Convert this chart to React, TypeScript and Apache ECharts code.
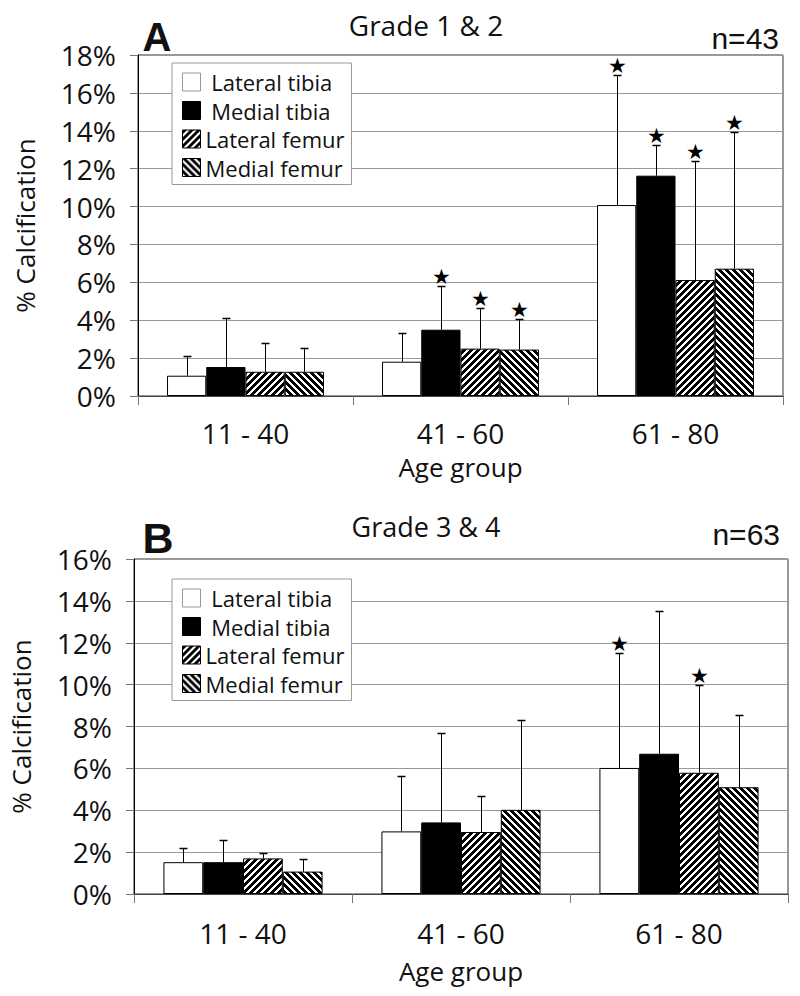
import React, { useEffect, useRef } from 'react';
import * as echarts from 'echarts';

// ---------- data ----------
const categories = ['11 - 40', '41 - 60', '61 - 80'];
const seriesNames = ['Lateral tibia', 'Medial tibia', 'Lateral femur', 'Medial femur'];

// Panel A: Grade 1 & 2 (mean %, upper end of error bar %)
const meanA_lateralTibia = [1.07, 1.81, 10.08];
const meanA_medialTibia = [1.53, 3.5, 11.63];
const meanA_lateralFemur = [1.28, 2.5, 6.12];
const meanA_medialFemur = [1.28, 2.45, 6.72];
const upperA_lateralTibia = [2.11, 3.33, 16.96];
const upperA_medialTibia = [4.1, 5.79, 13.23];
const upperA_lateralFemur = [2.82, 4.66, 12.42];
const upperA_medialFemur = [2.53, 4.06, 13.94];
const starA_lateralTibia = [0, 0, 1];
const starA_medialTibia = [0, 1, 1];
const starA_lateralFemur = [0, 1, 1];
const starA_medialFemur = [0, 1, 1];

// Panel B: Grade 3 & 4
const meanB_lateralTibia = [1.52, 2.99, 6.02];
const meanB_medialTibia = [1.52, 3.42, 6.7];
const meanB_lateralFemur = [1.7, 2.96, 5.79];
const meanB_medialFemur = [1.07, 4.02, 5.1];
const upperB_lateralTibia = [2.19, 5.63, 11.5];
const upperB_medialTibia = [2.58, 7.68, 13.54];
const upperB_lateralFemur = [1.94, 4.69, 9.97];
const upperB_medialFemur = [1.65, 8.3, 8.54];
const starB_lateralTibia = [0, 0, 1];
const starB_medialTibia = [0, 0, 0];
const starB_lateralFemur = [0, 0, 1];
const starB_medialFemur = [0, 0, 0];

const yMaxA = 18;
const yMaxB = 16;
const yInterval = 2;

const CAT_GAP = 0.27;
const FONT = '"Open Sans", "DejaVu Sans", sans-serif';

function makeStripes(dir: number) {
  const p = 7;
  const c = document.createElement('canvas');
  c.width = p;
  c.height = p;
  const ctx = c.getContext('2d')!;
  ctx.fillStyle = '#fff';
  ctx.fillRect(0, 0, p, p);
  ctx.fillStyle = '#000';
  for (let y = 0; y < p; y++) {
    for (let x = 0; x < p; x++) {
      const k = dir > 0 ? (x + y) % p : (((x - y) % p) + p) % p;
      if (k < 4) ctx.fillRect(x, y, 1, 1);
    }
  }
  return c;
}

export default function App() {
  const ref = useRef<HTMLDivElement>(null);

  useEffect(() => {
    if (!ref.current) return;
    const chart = echarts.init(ref.current, null, { renderer: 'svg' });

    const fwd = { image: makeStripes(1), repeat: 'repeat', imageWidth: 7, imageHeight: 7 };
    const back = { image: makeStripes(-1), repeat: 'repeat', imageWidth: 7, imageHeight: 7 };
    const fills: any[] = ['#ffffff', '#000000', fwd, back];

    const meansA = [meanA_lateralTibia, meanA_medialTibia, meanA_lateralFemur, meanA_medialFemur];
    const uppersA = [upperA_lateralTibia, upperA_medialTibia, upperA_lateralFemur, upperA_medialFemur];
    const starsA = [starA_lateralTibia, starA_medialTibia, starA_lateralFemur, starA_medialFemur];
    const meansB = [meanB_lateralTibia, meanB_medialTibia, meanB_lateralFemur, meanB_medialFemur];
    const uppersB = [upperB_lateralTibia, upperB_medialTibia, upperB_lateralFemur, upperB_medialFemur];
    const starsB = [starB_lateralTibia, starB_medialTibia, starB_lateralFemur, starB_medialFemur];

    const barSeries = (means: number[][], gi: number) =>
      means.map((m, i) => ({
        type: 'bar',
        name: seriesNames[i],
        xAxisIndex: gi,
        yAxisIndex: gi,
        data: m,
        barGap: '0%',
        barCategoryGap: CAT_GAP * 100 + '%',
        itemStyle: { color: fills[i], borderColor: '#000', borderWidth: 1 },
        z: 2,
      }));

    const errData = (means: number[][], uppers: number[][], stars: number[][]) => {
      const out: number[][] = [];
      means.forEach((m, si) => {
        m.forEach((v, ci) => {
          out.push([ci, v, uppers[si][ci], si, stars[si][ci]]);
        });
      });
      return out;
    };

    const errSeries = (gi: number, data: number[][]) => ({
      type: 'custom',
      xAxisIndex: gi,
      yAxisIndex: gi,
      z: 5,
      silent: true,
      encode: { x: 0, y: [1, 2] },
      data,
      renderItem: (params: any, api: any) => {
        const cat = api.value(0);
        const mean = api.value(1);
        const upper = api.value(2);
        const si = api.value(3);
        const star = api.value(4);
        const band = api.size([1, 0])[0];
        const total = band * (1 - CAT_GAP);
        const bw = total / 4;
        const base = api.coord([cat, 0]);
        const cx = Math.round(base[0] - total / 2 + bw * (si + 0.5)) + 0.5;
        const yTop = Math.round(api.coord([cat, upper])[1]) + 0.5;
        const yMean = api.coord([cat, mean])[1];
        const children: any[] = [
          { type: 'line', shape: { x1: cx, y1: yMean, x2: cx, y2: yTop }, style: { stroke: '#000', lineWidth: 1 } },
          { type: 'line', shape: { x1: cx - 4, y1: yTop, x2: cx + 4, y2: yTop }, style: { stroke: '#000', lineWidth: 1.5 } },
        ];
        if (star) {
          children.push({
            type: 'text',
            style: {
              text: '★',
              x: cx,
              y: yTop + 1,
              textAlign: 'center',
              align: 'center',
              textVerticalAlign: 'bottom',
              verticalAlign: 'bottom',
              font: '21px "DejaVu Sans"',
              fill: '#000',
            },
          });
        }
        return { type: 'group', children };
      },
    });

    const legendCfg = (top: number) => ({
      orient: 'vertical',
      left: 172,
      top,
      padding: [8, 7, 6, 10],
      itemWidth: 18,
      itemHeight: 18,
      itemGap: 6.5,
      borderColor: '#999',
      borderWidth: 1,
      backgroundColor: '#fff',
      icon: 'rect',
      selectedMode: false,
      z: 10,
      textStyle: { fontFamily: FONT, fontSize: 22, color: '#111', lineHeight: 18 },
      formatter: (name: string) => (name.indexOf('tibia') >= 0 ? '\u00a0' + name : name),
      data: seriesNames.map((n, i) => ({
        name: n,
        itemStyle: { borderColor: i === 0 ? '#999' : '#000', borderWidth: 1 },
      })),
    });

    const xAxisCfg = (gi: number, margin: number, nameGap: number) => ({
      gridIndex: gi,
      type: 'category',
      data: categories,
      axisLine: { show: true, lineStyle: { color: '#444', width: 1 } },
      axisTick: { show: true, length: 9, lineStyle: { color: '#777' } },
      axisLabel: { fontFamily: FONT, fontSize: 28, color: '#111', margin, lineHeight: 24 },
      splitLine: { show: false },
      name: 'Age group',
      nameLocation: 'middle',
      nameGap,
      nameTextStyle: { fontFamily: FONT, fontSize: 26, color: '#111', lineHeight: 22 },
    });

    const yAxisCfg = (gi: number, max: number) => ({
      gridIndex: gi,
      type: 'value',
      min: 0,
      max,
      interval: yInterval,
      axisLine: { show: true, lineStyle: { color: '#000', width: 1 } },
      axisTick: { show: true, length: 8, lineStyle: { color: '#777' } },
      axisLabel: { formatter: '{value}%', fontFamily: FONT, fontSize: 28, color: '#111', margin: 22 },
      splitLine: { show: true, lineStyle: { color: '#999', width: 1 } },
      name: '% Calcification',
      nameLocation: 'middle',
      nameGap: 100,
      nameTextStyle: { fontFamily: FONT, fontSize: 26, color: '#111' },
    });

    const txt = (text: string, x: number, y: number, font: string, align: string) => ({
      type: 'text',
      x,
      y,
      z: 20,
      style: {
        text,
        font,
        fill: '#111',
        textAlign: align,
        align,
        textVerticalAlign: 'middle',
        verticalAlign: 'middle',
      },
    });

    const option: any = {
      animation: false,
      backgroundColor: '#fff',
      textStyle: { fontFamily: FONT },
      grid: [
        { left: 138, top: 55, width: 645, height: 341, show: true, borderColor: '#333', borderWidth: 1, backgroundColor: 'transparent' },
        { left: 131, top: 559, width: 657, height: 335, show: true, borderColor: '#333', borderWidth: 1, backgroundColor: 'transparent' },
      ],
      xAxis: [xAxisCfg(0, 25, 60), xAxisCfg(1, 27, 66)],
      yAxis: [yAxisCfg(0, yMaxA), yAxisCfg(1, yMaxB)],
      legend: [legendCfg(63), legendCfg(579)],
      series: [
        ...barSeries(meansA, 0),
        ...barSeries(meansB, 1),
        errSeries(0, errData(meansA, uppersA, starsA)),
        errSeries(1, errData(meansB, uppersB, starsB)),
      ],
      graphic: [
        txt('A', 157, 37, 'bold 40px "Liberation Sans", Arial, sans-serif', 'center'),
        txt('Grade 1 & 2', 426, 25, '28px ' + FONT, 'center'),
        txt('n=43', 779, 38, '30px "Liberation Sans", Arial, sans-serif', 'right'),
        txt('B', 158, 538, 'bold 43px "Liberation Sans", Arial, sans-serif', 'center'),
        txt('Grade 3 & 4', 426, 526, '27px ' + FONT, 'center'),
        txt('n=63', 780, 534, '30px "Liberation Sans", Arial, sans-serif', 'right'),
      ],
    };

    chart.setOption(option);
    return () => chart.dispose();
  }, []);

  return (
    <div
      ref={ref}
      style={{ position: 'absolute', left: 0, top: 0, width: 800, height: 996, background: '#fff' }}
    />
  );
}
